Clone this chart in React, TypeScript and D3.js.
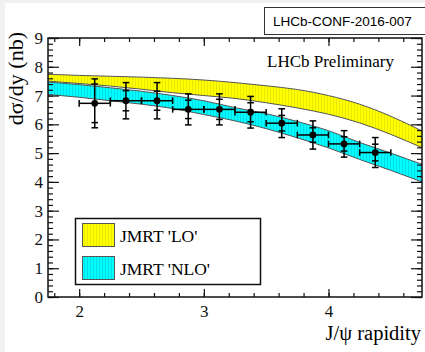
import { useEffect, useRef } from 'react';
import * as d3 from 'd3';

// JMRT theory bands (rapidity grid, upper / lower edge in nb)
const bandRapidity = [1.75, 2.0, 2.25, 2.5, 2.75, 3.0, 3.25, 3.5, 3.75, 4.0, 4.25, 4.5, 4.75];
const loHigh = [7.74, 7.7, 7.67, 7.64, 7.6, 7.54, 7.45, 7.34, 7.21, 7.0, 6.7, 6.28, 5.77];
const loLow = [7.5, 7.42, 7.33, 7.22, 7.1, 7.0, 6.9, 6.75, 6.57, 6.35, 6.05, 5.65, 5.19];
const nloHigh = [7.47, 7.38, 7.27, 7.15, 7.0, 6.82, 6.58, 6.37, 6.1, 5.78, 5.37, 5.0, 4.61];
const nloLow = [7.04, 6.94, 6.82, 6.7, 6.55, 6.34, 6.12, 5.85, 5.53, 5.18, 4.78, 4.4, 4.0];

// LHCb measurement
const binLow = [2.0, 2.25, 2.5, 2.75, 3.0, 3.25, 3.5, 3.75, 4.0, 4.25];
const binHigh = [2.25, 2.5, 2.75, 3.0, 3.25, 3.5, 3.75, 4.0, 4.25, 4.5];
const xsec = [6.73, 6.82, 6.82, 6.52, 6.52, 6.42, 6.04, 5.63, 5.32, 5.02];
const errInner = [0.67, 0.35, 0.33, 0.32, 0.35, 0.33, 0.27, 0.25, 0.25, 0.29];
const errTotal = [0.85, 0.63, 0.63, 0.54, 0.54, 0.55, 0.5, 0.49, 0.46, 0.52];

const legendLabels = ["JMRT 'LO'", "JMRT 'NLO'"];

const SERIF = '"Liberation Serif", "Times New Roman", serif';

export default function App() {
  const ref = useRef<SVGSVGElement>(null);

  useEffect(() => {
    if (!ref.current) return;
    const svg = d3.select(ref.current);
    svg.selectAll('*').remove();

    const W = 425;
    const H = 352;
    const margin = { top: 38, right: 3, bottom: 55, left: 48 };
    const width = W - margin.left - margin.right;
    const height = H - margin.top - margin.bottom;

    // page background with the light grey border strip
    svg.append('rect').attr('width', W).attr('height', H).attr('fill', '#f1f1f1');
    svg.append('rect').attr('x', 5).attr('y', 3).attr('width', W - 5).attr('height', H - 3).attr('fill', 'white');

    const defs = svg.append('defs');
    const makeHatch = (id: string, bg: string, stripe: string) => {
      const p = defs
        .append('pattern')
        .attr('id', id)
        .attr('patternUnits', 'userSpaceOnUse')
        .attr('width', 3)
        .attr('height', 4);
      p.append('rect').attr('width', 3).attr('height', 4).attr('fill', bg);
      p.append('rect').attr('x', 0).attr('width', 1).attr('height', 4).attr('fill', stripe);
    };
    makeHatch('hatchYellow', '#ffff00', '#e8e800');
    makeHatch('hatchCyan', '#00ffff', '#00dde8');

    defs
      .append('clipPath')
      .attr('id', 'plotClip')
      .append('rect')
      .attr('width', width)
      .attr('height', height);

    const g = svg.append('g').attr('transform', `translate(${margin.left},${margin.top})`);

    const x = d3.scaleLinear().domain([1.75, 4.75]).range([0, width]);
    const y = d3.scaleLinear().domain([0, 9]).range([height, 0]);

    // Theory bands
    const plot = g.append('g').attr('clip-path', 'url(#plotClip)');
    const bands = [
      { hi: loHigh, lo: loLow, fill: 'url(#hatchYellow)' },
      { hi: nloHigh, lo: nloLow, fill: 'url(#hatchCyan)' },
    ];
    bands.forEach((b) => {
      const idx = d3.range(bandRapidity.length);
      const area = d3
        .area<number>()
        .x((i) => x(bandRapidity[i]))
        .y0((i) => y(b.lo[i]))
        .y1((i) => y(b.hi[i]))
        .curve(d3.curveMonotoneX);
      plot.append('path').datum(idx).attr('d', area).attr('fill', b.fill);
      [b.hi, b.lo].forEach((edge) => {
        const line = d3
          .line<number>()
          .x((i) => x(bandRapidity[i]))
          .y((i) => y(edge[i]))
          .curve(d3.curveMonotoneX);
        plot
          .append('path')
          .datum(idx)
          .attr('d', line)
          .attr('fill', 'none')
          .attr('stroke', '#555')
          .attr('stroke-width', 1);
      });
    });

    // Data points with error bars
    const pts = g.append('g');
    const cap = 3.3;
    xsec.forEach((v, i) => {
      const cx = x((binLow[i] + binHigh[i]) / 2);
      const cy = y(v);
      const draw = (x1: number, y1: number, x2: number, y2: number) =>
        pts
          .append('line')
          .attr('x1', x1)
          .attr('y1', y1)
          .attr('x2', x2)
          .attr('y2', y2)
          .attr('stroke', 'black')
          .attr('stroke-width', 1.5);
      // vertical total
      draw(cx, y(v + errTotal[i]), cx, y(v - errTotal[i]));
      // horizontal bin width
      draw(x(binLow[i]), cy, x(binHigh[i]), cy);
      // caps
      [v + errTotal[i], v - errTotal[i], v + errInner[i], v - errInner[i]].forEach((e) =>
        draw(cx - cap, y(e), cx + cap, y(e))
      );
      [binLow[i], binHigh[i]].forEach((b) => draw(x(b), cy - cap, x(b), cy + cap));
      pts.append('circle').attr('cx', cx).attr('cy', cy).attr('r', 3.4).attr('fill', 'black');
    });

    // Axes (ticks inward, mirrored on top and right)
    const tickStyle = (sel: d3.Selection<SVGGElement, unknown, null, undefined>) => {
      sel.select('.domain').remove();
      sel.selectAll('line').attr('stroke', '#111').attr('stroke-width', 1.2);
      sel.selectAll('text').attr('font-family', SERIF).attr('font-size', 17).attr('fill', '#111');
    };

    const xMajor = x.ticks(3);
    const xMinor = x.ticks(15);
    const yMajor = y.ticks(9);
    const yMinor = y.ticks(45);

    g.append('g')
      .attr('transform', `translate(0,${height})`)
      .call(d3.axisBottom(x).tickValues(xMajor).tickSizeInner(-8).tickSizeOuter(0).tickPadding(8).tickFormat(d3.format('d')))
      .call(tickStyle);
    g.append('g')
      .attr('transform', `translate(0,${height})`)
      .call(d3.axisBottom(x).tickValues(xMinor).tickSizeInner(-4).tickSizeOuter(0).tickFormat(() => ''))
      .call(tickStyle);
    g.append('g')
      .call(d3.axisTop(x).tickValues(xMajor).tickSizeInner(-8).tickSizeOuter(0).tickFormat(() => ''))
      .call(tickStyle);
    g.append('g')
      .call(d3.axisTop(x).tickValues(xMinor).tickSizeInner(-4).tickSizeOuter(0).tickFormat(() => ''))
      .call(tickStyle);

    g.append('g')
      .call(d3.axisLeft(y).tickValues(yMajor).tickSizeInner(-11).tickSizeOuter(0).tickPadding(5).tickFormat(d3.format('d')))
      .call(tickStyle);
    g.append('g')
      .call(d3.axisLeft(y).tickValues(yMinor).tickSizeInner(-5).tickSizeOuter(0).tickFormat(() => ''))
      .call(tickStyle);
    g.append('g')
      .attr('transform', `translate(${width},0)`)
      .call(d3.axisRight(y).tickValues(yMajor).tickSizeInner(-11).tickSizeOuter(0).tickFormat(() => ''))
      .call(tickStyle);
    g.append('g')
      .attr('transform', `translate(${width},0)`)
      .call(d3.axisRight(y).tickValues(yMinor).tickSizeInner(-5).tickSizeOuter(0).tickFormat(() => ''))
      .call(tickStyle);

    // Frame
    g.append('rect')
      .attr('width', width)
      .attr('height', height)
      .attr('fill', 'none')
      .attr('stroke', '#111')
      .attr('stroke-width', 1.5);

    // Axis titles
    svg
      .append('text')
      .attr('transform', `translate(23,${margin.top - 6}) rotate(-90)`)
      .attr('text-anchor', 'end')
      .attr('font-family', SERIF)
      .attr('font-size', 22)
      .text('dσ/dy (nb)');
    svg
      .append('text')
      .attr('x', 421)
      .attr('y', 340)
      .attr('text-anchor', 'end')
      .attr('font-family', SERIF)
      .attr('font-size', 20.5)
      .text('J/ψ rapidity');

    svg
      .append('text')
      .attr('x', 267)
      .attr('y', 67)
      .attr('font-family', SERIF)
      .attr('font-size', 17)
      .text('LHCb Preliminary');

    // Conference note tag
    svg
      .append('rect')
      .attr('x', 264.5)
      .attr('y', 7.5)
      .attr('width', 170)
      .attr('height', 27)
      .attr('fill', 'white')
      .attr('stroke', '#333')
      .attr('stroke-width', 1);
    svg
      .append('text')
      .attr('x', 273)
      .attr('y', 25.5)
      .attr('font-family', '"Liberation Sans", Arial, sans-serif')
      .attr('font-size', 13.5)
      .text('LHCb-CONF-2016-007');

    // Legend
    const legend = svg.append('g');
    legend
      .append('rect')
      .attr('x', 75.5)
      .attr('y', 218.5)
      .attr('width', 185)
      .attr('height', 66)
      .attr('fill', 'white')
      .attr('stroke', '#111')
      .attr('stroke-width', 1.5);
    const swatchFill = ['url(#hatchYellow)', 'url(#hatchCyan)'];
    legendLabels.forEach((label, i) => {
      const top = 223 + i * 33;
      legend
        .append('rect')
        .attr('x', 82.5)
        .attr('y', top + 0.5)
        .attr('width', 32)
        .attr('height', 23)
        .attr('fill', swatchFill[i])
        .attr('stroke', '#555')
        .attr('stroke-width', 1);
      legend
        .append('text')
        .attr('x', 120)
        .attr('y', top + 18.5)
        .attr('font-family', SERIF)
        .attr('font-size', 17.5)
        .text(label);
    });
  }, []);

  return (
    <svg
      ref={ref}
      width={425}
      height={352}
      style={{ position: 'fixed', left: 0, top: 0, display: 'block' }}
    />
  );
}
